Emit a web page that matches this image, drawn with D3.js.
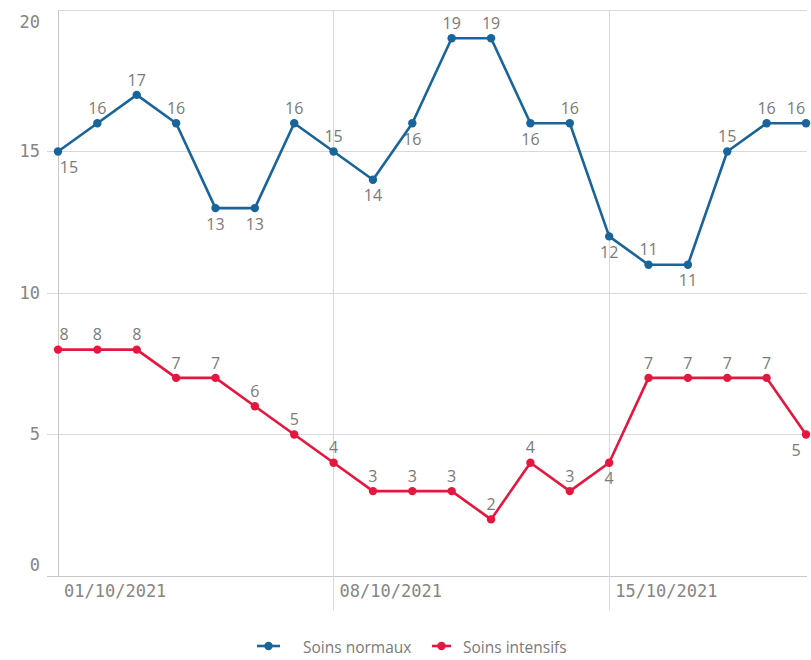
<!DOCTYPE html>
<html>
<head>
<meta charset="utf-8">
<script src="https://cdn.jsdelivr.net/npm/d3@7"></script>
<style>
  html, body { margin: 0; padding: 0; background: #fff; }
  svg { display: block; }
</style>
</head>
<body>
<svg id="chart" width="811" height="660"></svg>
<script>
// ---- data ----
const dates = ["01/10/2021","02/10/2021","03/10/2021","04/10/2021","05/10/2021","06/10/2021","07/10/2021",
  "08/10/2021","09/10/2021","10/10/2021","11/10/2021","12/10/2021","13/10/2021","14/10/2021",
  "15/10/2021","16/10/2021","17/10/2021","18/10/2021","19/10/2021","20/10/2021"];
const soinsNormaux = [15,16,17,16,13,13,16,15,14,16,19,19,16,16,12,11,11,15,16,16];
const soinsIntensifs = [8,8,8,7,7,6,5,4,3,3,3,2,4,3,4,7,7,7,7,5];
const xTickLabels = ["01/10/2021","08/10/2021","15/10/2021"];
const yTicks = [0,5,10,15,20];
const seriesNames = ["Soins normaux","Soins intensifs"];

// label placement (a = above, b = below)
const placeNormaux = ["b","a","a","a","b","b","a","a","b","b","a","a","b","a","b","a","b","a","a","a"];
const placeIntensifs = ["a","a","a","a","a","a","a","a","a","a","a","a","a","a","b","a","a","a","a","b"];

// ---- styles ----
const blue = "#19649a", red = "#e5173f";
const gridCol = "#d9d9d9", textCol = "#7a7a7a", axisTextCol = "#858585";
const monoFont = "'DejaVu Sans Mono', monospace";
const sansFont = "'Open Sans', 'Noto Sans', sans-serif";

const svg = d3.select("#chart");
const mLeft = 58, mRight = 806, mTop = 10, mBottom = 576;

const x = d3.scalePoint().domain(dates).range([mLeft, mRight]);
const y = d3.scaleLinear().domain([0, 20]).range([mBottom, mTop]);

// horizontal grid + y ticks
const gy = svg.append("g");
yTicks.forEach(t => {
  gy.append("line").attr("x1", t === 20 ? mLeft : 47).attr("x2", mRight + 1)
    .attr("y1", y(t)).attr("y2", y(t))
    .attr("stroke", t === 0 ? "#c8c8c8" : gridCol).attr("stroke-width", 1)
    .attr("shape-rendering", "crispEdges");
  let ly = y(t);
  if (t === 20) ly = y(t) + 12;
  if (t === 0) ly = y(t) - 11;
  gy.append("text").attr("x", 40).attr("y", ly).attr("dy", "0.35em")
    .attr("text-anchor", "end").attr("font-family", monoFont).attr("font-size", 17)
    .attr("fill", axisTextCol).text(t);
});

// vertical grid + x tick labels
xTickLabels.forEach((d, i) => {
  const xp = x(d);
  svg.append("line").attr("x1", xp).attr("x2", xp)
    .attr("y1", mTop).attr("y2", i === 0 ? mBottom : 610)
    .attr("stroke", i === 0 ? "#c8c8c8" : gridCol).attr("stroke-width", 1)
    .attr("shape-rendering", "crispEdges");
  svg.append("text").attr("x", xp + 6).attr("y", 591).attr("dy", "0.35em")
    .attr("font-family", monoFont).attr("font-size", 17).attr("fill", axisTextCol).text(d);
});

function drawSeries(vals, color, place) {
  const data = vals.map((v, i) => ({ d: dates[i], v, i }));
  const line = d3.line().x(p => x(p.d)).y(p => y(p.v));
  svg.append("path").datum(data).attr("d", line)
    .attr("fill", "none").attr("stroke", color).attr("stroke-width", 2.6)
    .attr("stroke-linejoin", "round");
  svg.append("g").selectAll("circle").data(data).join("circle")
    .attr("cx", p => x(p.d)).attr("cy", p => y(p.v)).attr("r", 4.2).attr("fill", color);
  svg.append("g").selectAll("text").data(data).join("text")
    .attr("x", p => {
      let xp = x(p.d);
      if (p.i === 0) xp += place[p.i] === "b" ? 11 : 6;
      if (p.i === dates.length - 1) xp -= 10;
      return xp;
    })
    .attr("y", p => y(p.v) + (place[p.i] === "a" ? -15 : 16))
    .attr("dy", "0.35em").attr("text-anchor", "middle")
    .attr("font-family", sansFont).attr("font-size", 16).attr("fill", textCol)
    .text(p => p.v);
}
drawSeries(soinsNormaux, blue, placeNormaux);
drawSeries(soinsIntensifs, red, placeIntensifs);

// legend
const legend = [
  { name: seriesNames[0], color: blue, x1: 257, x2: 280, tx: 303 },
  { name: seriesNames[1], color: red, x1: 432, x2: 451, tx: 463 }
];
const legY = 646;
legend.forEach(l => {
  svg.append("line").attr("x1", l.x1).attr("x2", l.x2).attr("y1", legY).attr("y2", legY)
    .attr("stroke", l.color).attr("stroke-width", 2.6);
  svg.append("circle").attr("cx", (l.x1 + l.x2) / 2).attr("cy", legY).attr("r", 4.2).attr("fill", l.color);
  svg.append("text").attr("x", l.tx).attr("y", legY + 2).attr("dy", "0.35em")
    .attr("font-family", sansFont).attr("font-size", 15.5).attr("fill", textCol).text(l.name);
});
</script>
</body>
</html>
